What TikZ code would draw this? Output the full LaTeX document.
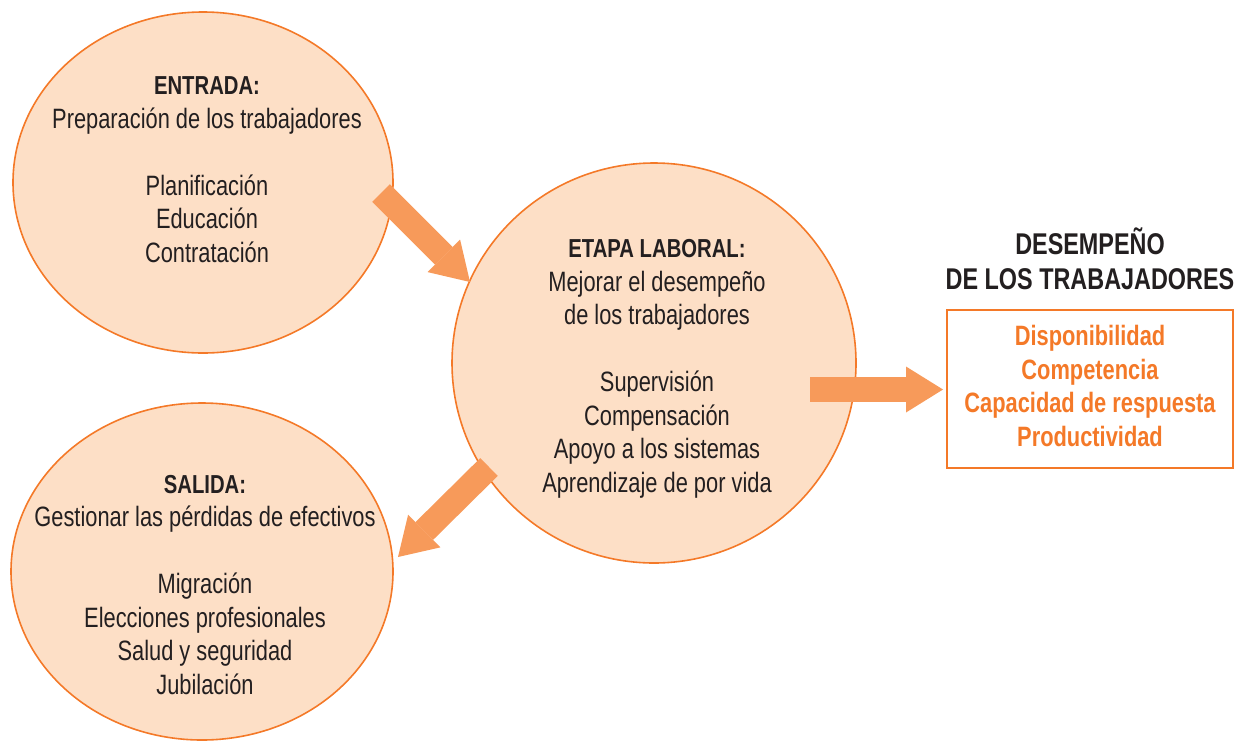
\documentclass[tikz,border=0pt]{standalone}
\usepackage{fontspec}
\setmainfont{Liberation Sans}[FakeStretch=0.78]
\usetikzlibrary{shapes.geometric,arrows.meta}
\definecolor{circfill}{RGB}{253,223,198}
\definecolor{circline}{RGB}{244,121,40}
\definecolor{arrowfill}{RGB}{247,154,90}
\definecolor{txt}{RGB}{35,31,32}
\begin{document}
\begin{tikzpicture}[x=1pt,y=-1pt,
  phase/.style={ellipse, draw=circline, line width=1.6pt, fill=circfill, inner sep=0pt},
  body/.style={align=center, text=txt, font=\fontsize{28}{33.5}\selectfont, anchor=base, inner sep=0pt},
  blockarrow/.style={draw=arrowfill, line width=25pt, -{Triangle[length=37pt,width=46pt,line width=0pt]}}
]
\useasboundingbox (0,0) rectangle (1241,742);
% phases
\node[phase, minimum width=380pt, minimum height=341pt] (entrada) at (203,182.5) {};
\node[phase, minimum width=404pt, minimum height=400pt] (etapa) at (654,363) {};
\node[phase, minimum width=382pt, minimum height=337pt] (salida) at (202,571.5) {};
% texts (anchor base = baseline of the last line)
\node[body] (tentrada) at (207,262) {{\fontsize{26}{33.5}\selectfont\bfseries ENTRADA:}\\Preparación de los trabajadores\\[33.5pt]Planificación\\Educación\\Contratación};
\node[body] (tetapa) at (657,492) {{\fontsize{26}{33.5}\selectfont\bfseries ETAPA LABORAL:}\\Mejorar el desempeño\\de los trabajadores\\[33.5pt]Supervisión\\Compensación\\Apoyo a los sistemas\\Aprendizaje de por vida};
\node[body] (tsalida) at (205,694) {{\fontsize{26}{33.5}\selectfont\bfseries SALIDA:}\\Gestionar las pérdidas de efectivos\\[33.5pt]Migración\\Elecciones profesionales\\Salud y seguridad\\Jubilación};
% performance
\node[body, font=\fontsize{30}{35}\selectfont\bfseries] (title) at (1090,289) {DESEMPEÑO\\DE LOS TRABAJADORES};
\node[draw=circline, line width=1.6pt, minimum width=286pt, minimum height=158pt, inner sep=0pt] (box) at (1090,389) {};
\node[body, text=circline, font=\fontsize{28}{33.4}\selectfont\bfseries] (perf) at (1090,446) {Disponibilidad\\Competencia\\Capacidad de respuesta\\Productividad};
% arrows
\coordinate (a1s) at (381,193);
\coordinate (a1e) at (470,282);
\coordinate (a2s) at (810,389.5);
\coordinate (a2e) at (943,389.5);
\coordinate (a3s) at (489,467);
\coordinate (a3e) at (398,557);
\draw[blockarrow] (a1s) -- (a1e);
\draw[blockarrow] (a2s) -- (a2e);
\draw[blockarrow] (a3s) -- (a3e);
\end{tikzpicture}
\end{document}
